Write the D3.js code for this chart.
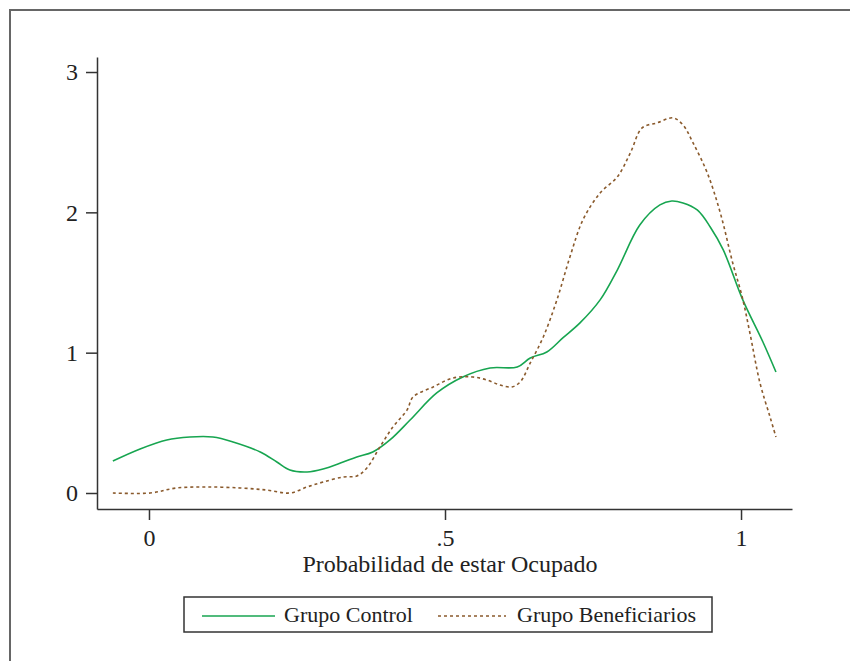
<!DOCTYPE html>
<html>
<head>
<meta charset="utf-8">
<script src="https://cdn.jsdelivr.net/npm/d3@7"></script>
<style>
  body { margin: 0; background: #fff; }
  svg { display: block; }
  text { font-family: "Liberation Serif", "DejaVu Serif", serif; fill: #222; }
</style>
</head>
<body>
<div id="chart"></div>
<script>
// Density curves (x = probabilidad, y = densidad)
const controlX = [-0.061, -0.015, 0.030, 0.069, 0.108, 0.142, 0.188, 0.216, 0.238, 0.267, 0.294, 0.328, 0.351, 0.378, 0.407, 0.441, 0.486, 0.530, 0.576, 0.622, 0.644, 0.672, 0.699, 0.728, 0.762, 0.791, 0.829, 0.863, 0.883, 0.902, 0.926, 0.948, 0.970, 1.003, 1.037, 1.059];
const controlY = [0.228, 0.314, 0.378, 0.399, 0.399, 0.364, 0.292, 0.221, 0.164, 0.150, 0.171, 0.221, 0.257, 0.292, 0.378, 0.520, 0.713, 0.827, 0.891, 0.898, 0.962, 1.005, 1.105, 1.212, 1.376, 1.589, 1.910, 2.053, 2.081, 2.067, 2.017, 1.896, 1.732, 1.376, 1.076, 0.862];

const benefX = [-0.061, 0.002, 0.047, 0.098, 0.154, 0.199, 0.238, 0.267, 0.294, 0.328, 0.351, 0.368, 0.390, 0.412, 0.436, 0.446, 0.480, 0.514, 0.547, 0.571, 0.593, 0.613, 0.627, 0.644, 0.666, 0.689, 0.711, 0.733, 0.762, 0.791, 0.813, 0.833, 0.858, 0.885, 0.902, 0.919, 0.943, 0.965, 0.986, 1.002, 1.015, 1.032, 1.049, 1.059];
const benefY = [0.000, 0.000, 0.036, 0.043, 0.036, 0.021, 0.000, 0.043, 0.078, 0.114, 0.121, 0.178, 0.328, 0.470, 0.592, 0.684, 0.756, 0.820, 0.827, 0.805, 0.770, 0.756, 0.791, 0.927, 1.112, 1.376, 1.682, 1.946, 2.138, 2.252, 2.423, 2.602, 2.637, 2.673, 2.623, 2.495, 2.281, 1.996, 1.639, 1.397, 1.140, 0.784, 0.542, 0.399];

const xTicks = [0, 0.5, 1];
const xTickLabels = ["0", ".5", "1"];
const yTicks = [0, 1, 2, 3];
const seriesNames = ["Grupo Control", "Grupo Beneficiarios"];

const width = 850, height = 661;
const green = "#17a550", brown = "#8a5a2c";

const svg = d3.select("#chart").append("svg")
    .attr("width", width)
    .attr("height", height);

// outer frame (runs off the right and bottom edges)
svg.append("rect")
    .attr("x", 10).attr("y", 10)
    .attr("width", 900).attr("height", 700)
    .attr("fill", "none")
    .attr("stroke", "#666")
    .attr("stroke-width", 2);

const x = d3.scaleLinear().domain([-0.0878, 1.0861]).range([97, 792]);
const y = d3.scaleLinear().domain([-0.114, 3.107]).range([509, 57]);

// y axis
const yAxis = svg.append("g")
    .attr("transform", "translate(97,0)")
    .call(d3.axisLeft(y).tickValues(yTicks).tickFormat(d3.format("d")).tickSize(11).tickSizeOuter(0).tickPadding(8));

// x axis
const xAxis = svg.append("g")
    .attr("transform", "translate(0,509)")
    .call(d3.axisBottom(x).tickValues(xTicks).tickFormat((d, i) => xTickLabels[i]).tickSize(11).tickSizeOuter(0).tickPadding(9));

[xAxis, yAxis].forEach(g => {
    g.select(".domain").attr("stroke", "#333").attr("stroke-width", 1.5);
    g.selectAll(".tick line").attr("stroke", "#333").attr("stroke-width", 1.5);
    g.selectAll(".tick text")
        .style("font-family", "'Liberation Serif', serif")
        .style("font-size", "24px")
        .attr("fill", "#222");
});

svg.append("text")
    .attr("x", 450).attr("y", 572)
    .attr("text-anchor", "middle")
    .style("font-size", "24px")
    .text("Probabilidad de estar Ocupado");

const line = d3.line()
    .x(d => x(d[0]))
    .y(d => y(d[1]))
    .curve(d3.curveCatmullRom.alpha(0.5));

svg.append("path")
    .datum(controlX.map((v, i) => [v, controlY[i]]))
    .attr("d", line)
    .attr("fill", "none")
    .attr("stroke", green)
    .attr("stroke-width", 1.6);

svg.append("path")
    .datum(benefX.map((v, i) => [v, benefY[i]]))
    .attr("d", line)
    .attr("fill", "none")
    .attr("stroke", brown)
    .attr("stroke-width", 1.6)
    .attr("stroke-dasharray", "3,3");

// legend
const legend = svg.append("g");
legend.append("rect")
    .attr("x", 184).attr("y", 597)
    .attr("width", 528).attr("height", 35)
    .attr("fill", "#fff")
    .attr("stroke", "#333")
    .attr("stroke-width", 1.5);

const legendItems = [
    { name: seriesNames[0], color: green, dash: null, x0: 202, x1: 275, tx: 284 },
    { name: seriesNames[1], color: brown, dash: "3,3", x0: 438, x1: 506, tx: 517 }
];
legendItems.forEach(it => {
    legend.append("line")
        .attr("x1", it.x0).attr("x2", it.x1)
        .attr("y1", 616).attr("y2", 616)
        .attr("stroke", it.color)
        .attr("stroke-width", 1.6)
        .attr("stroke-dasharray", it.dash);
    legend.append("text")
        .attr("x", it.tx).attr("y", 622)
        .style("font-size", "22px")
        .text(it.name);
});
</script>
</body>
</html>
